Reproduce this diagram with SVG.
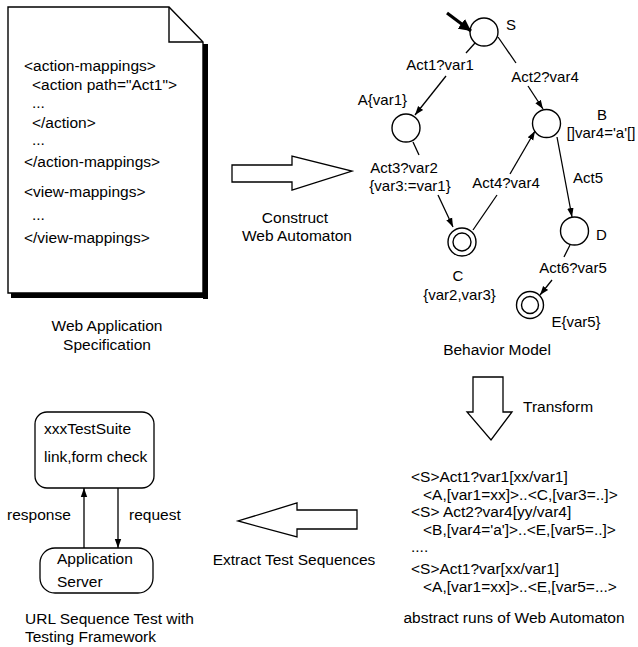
<svg xmlns="http://www.w3.org/2000/svg" width="638" height="647" viewBox="0 0 638 647">
<defs>
<marker id="ah" markerUnits="userSpaceOnUse" markerWidth="10" markerHeight="8" refX="9" refY="4" orient="auto">
<path d="M0,0.8 L9,4 L0,7.2 Z" fill="#000"/>
</marker>
<marker id="ahb" markerUnits="userSpaceOnUse" markerWidth="14" markerHeight="12" refX="12" refY="6" orient="auto">
<path d="M0,0 L12,6 L0,12 Z" fill="#000"/>
</marker>
<style>
text{font-family:"Liberation Sans",Arial,sans-serif;font-size:15.5px;fill:#000}
.s{font-size:15px}
.m{text-anchor:middle}
.e{text-anchor:end}
.ln{stroke:#000;stroke-width:1.3;fill:none}
.st{fill:#fff;stroke:#000;stroke-width:1.4}
.big{fill:#fff;stroke:#000;stroke-width:1.3}
</style>
</defs>
<rect width="638" height="647" fill="#fff"/>

<g id="spec">
<rect x="203" y="44" width="5" height="255" fill="#000"/>
<rect x="11" y="293" width="197" height="5" fill="#000"/>
<path d="M8,7 L169,7 L203,42 L203,293 L8,293 Z" fill="#fff" stroke="#000" stroke-width="1.4"/>
<path d="M169,7 L169,42 L203,42" fill="none" stroke="#000" stroke-width="1.4"/>
<text x="24" y="71">&lt;action-mappings&gt;</text>
<text x="32" y="90">&lt;action path="Act1"&gt;</text>
<text x="32" y="108">...</text>
<text x="32" y="128">&lt;/action&gt;</text>
<text x="32" y="145">...</text>
<text x="24" y="167">&lt;/action-mappings&gt;</text>
<text x="24" y="197">&lt;view-mappings&gt;</text>
<text x="32" y="220">...</text>
<text x="24" y="243">&lt;/view-mappings&gt;</text>
<text class="m" x="107" y="331">Web Application</text>
<text class="m" x="107" y="350">Specification</text>
</g>

<g id="construct">
<polygon class="big" points="232,165 292,165 292,156 352,171 292,190 292,182 232,182"/>
<text class="m" x="295" y="223">Construct</text>
<text class="m" x="297" y="241">Web Automaton</text>
</g>

<g id="state-S">
<circle class="st" cx="484" cy="32" r="14"/>
<text class="s m" x="511" y="30">S</text>
</g>
<g id="state-A">
<circle class="st" cx="406" cy="128" r="14"/>
<text class="s e" x="407" y="105">A{var1}</text>
</g>
<g id="state-B">
<circle class="st" cx="546.5" cy="123.5" r="14"/>
<text class="s m" x="602" y="120">B</text>
<text class="s m" x="601" y="138">[]var4='a'[]</text>
</g>
<g id="state-C">
<circle class="st" cx="462" cy="242" r="14"/>
<circle class="st" cx="462" cy="242" r="9"/>
<text class="s m" x="458" y="281">C</text>
<text class="s m" x="459.5" y="300">{var2,var3}</text>
</g>
<g id="state-D">
<circle class="st" cx="574.5" cy="231" r="14"/>
<text class="s m" x="601.5" y="240">D</text>
</g>
<g id="state-E">
<circle class="st" cx="530" cy="305" r="13.5"/>
<circle class="st" cx="530" cy="305" r="8.5"/>
<text class="s m" x="576" y="327">E{var5}</text>
</g>
<text class="m" x="497" y="355">Behavior Model</text>

<g id="transform">
<polygon class="big" points="473,377 503,377 503,412 512,412 491,440 467,412 473,412"/>
<text x="523" y="412">Transform</text>
</g>

<g id="runs">
<text x="411" y="482">&lt;S&gt;Act1?var1[xx/var1]</text>
<text x="423" y="500">&lt;A,[var1=xx]&gt;..&lt;C,[var3=..]&gt;</text>
<text x="411" y="517">&lt;S&gt; Act2?var4[yy/var4]</text>
<text x="423" y="535">&lt;B,[var4='a']&gt;..&lt;E,[var5=..]&gt;</text>
<text x="411" y="552">....</text>
<text x="411" y="574">&lt;S&gt;Act1?var[xx/var1]</text>
<text x="423" y="592">&lt;A,[var1=xx]&gt;..&lt;E,[var5=...&gt;</text>
<text class="m" x="514" y="623">abstract runs of Web Automaton</text>
</g>

<g id="extract">
<polygon class="big" points="357,510 297,510 297,503 238,521 297,537 297,529 357,529"/>
<text class="m" x="294" y="565">Extract Test Sequences</text>
</g>

<g id="testsuite">
<rect x="35" y="412" width="119" height="76" rx="12" fill="#fff" stroke="#000" stroke-width="1.3"/>
<text x="44" y="434">xxxTestSuite</text>
<text x="44" y="462">link,form check</text>
</g>
<g id="appserver">
<rect x="40" y="548" width="113" height="45" rx="15" fill="#fff" stroke="#000" stroke-width="1.3"/>
<text x="57" y="564">Application</text>
<text x="57" y="587">Server</text>
</g>
<text x="25" y="624">URL Sequence Test with</text>
<text x="25" y="642">Testing Framework</text>

<g id="connectors">
<line x1="447" y1="13" x2="471" y2="31" stroke="#000" stroke-width="3.2" marker-end="url(#ahb)"/>
<line class="ln" x1="475" y1="43" x2="466" y2="53"/>
<line class="ln" x1="446" y1="76" x2="415" y2="115" marker-end="url(#ah)"/>
<text class="s m" x="440" y="70">Act1?var1</text>
<line class="ln" x1="498" y1="37" x2="516" y2="63"/>
<line class="ln" x1="528" y1="86" x2="543" y2="109" marker-end="url(#ah)"/>
<text class="s m" x="545" y="82">Act2?var4</text>
<line class="ln" x1="413" y1="142" x2="419" y2="155"/>
<text class="s m" x="404" y="173">Act3?var2</text>
<text class="s m" x="410" y="191">{var3:=var1}</text>
<line class="ln" x1="438" y1="195" x2="453" y2="227" marker-end="url(#ah)"/>
<line class="ln" x1="473" y1="230" x2="497" y2="195"/>
<text class="s m" x="506" y="188">Act4?var4</text>
<line class="ln" x1="510" y1="174" x2="535" y2="131" marker-end="url(#ah)"/>
<line class="ln" x1="557" y1="137" x2="572" y2="217" marker-end="url(#ah)"/>
<text class="s m" x="588" y="183">Act5</text>
<line class="ln" x1="570" y1="245" x2="564" y2="257"/>
<text class="s m" x="573" y="273">Act6?var5</text>
<line class="ln" x1="552" y1="280" x2="540" y2="295" marker-end="url(#ah)"/>
<line class="ln" x1="84" y1="548" x2="84" y2="488" marker-end="url(#ah)"/>
<line class="ln" x1="118" y1="488" x2="118" y2="548" marker-end="url(#ah)"/>
<text x="7" y="520">response</text>
<text x="129" y="520">request</text>
</g>
</svg>
